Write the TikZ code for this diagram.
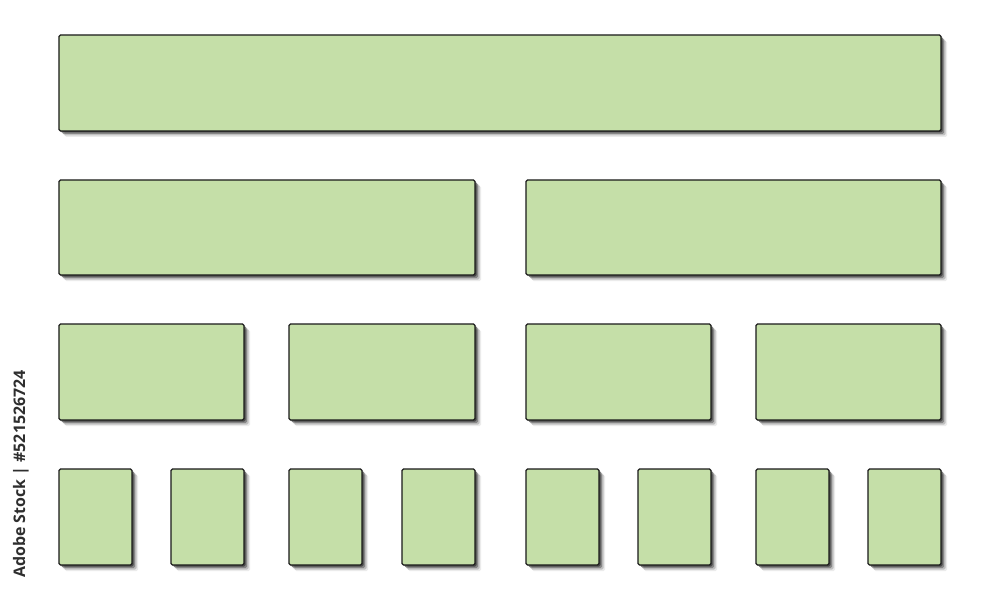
\documentclass[tikz,border=0pt]{standalone}
\usepackage{fontspec}
\setsansfont{Open Sans}
\usetikzlibrary{shadows}
\definecolor{Leaf}{HTML}{C5DFA8}
\definecolor{Edge}{HTML}{1A1A1A}
\definecolor{Stamp}{HTML}{2E2E2E}
\tikzset{
  box/.style={draw=Edge,fill=Leaf,line width=1.3bp,rounded corners=1.5bp,
    inner sep=0bp,
    drop shadow={shadow xshift=6bp,shadow yshift=-6bp,fill=black,opacity=.08},
    drop shadow={shadow xshift=4.5bp,shadow yshift=-4.5bp,fill=black,opacity=.18},
    drop shadow={shadow xshift=3bp,shadow yshift=-3bp,fill=black,opacity=.3},
    drop shadow={shadow xshift=1.5bp,shadow yshift=-1.5bp,fill=black,opacity=.45}},
  wide/.style={box,minimum height=96bp},
}

\begin{document}
\begin{tikzpicture}[x=1bp,y=-1bp]
  \path[use as bounding box,fill=white] (0,0) rectangle (1000,600);

  % top level
  \node[wide,minimum width=882bp] (root) at (500,83) {};

  % second level
  \node[wide,minimum width=416bp,minimum height=95bp] (left) at (267,227.5) {};
  \node[wide,minimum width=415bp,minimum height=95bp] (right) at (733.5,227.5) {};

  % third level
  \node[wide,minimum width=185bp] (ll) at (151.5,372) {};
  \node[wide,minimum width=186bp] (lr) at (382,372) {};
  \node[wide,minimum width=185bp] (rl) at (618.5,372) {};
  \node[wide,minimum width=185bp] (rr) at (848.5,372) {};

  % fourth level
  \foreach \x [count=\i] in {95.5,207.5,325.5,438.5,562.5,674.5,792.5,904.5} {
    \node[wide,minimum width=73bp] (leaf\i) at (\x,517) {};
  }

  \node[text=Stamp,font=\sffamily\bfseries\fontsize{16}{16}\selectfont,rotate=90,inner sep=0bp]
    (stamp) at (21,474) {Adobe Stock | \#521526724};
\end{tikzpicture}
\end{document}
